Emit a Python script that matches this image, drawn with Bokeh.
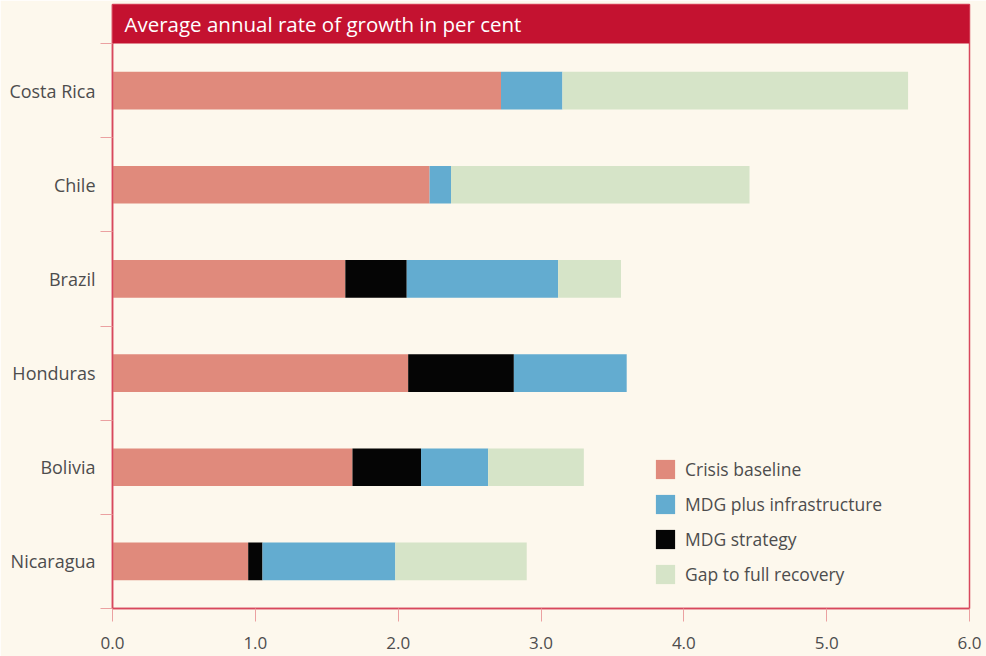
import numpy as np
from bokeh.plotting import figure
from bokeh.models import (Range1d, FixedTicker, BoxAnnotation, Label, Legend, LegendItem,
                          ColumnDataSource)
from bokeh.embed import file_html
from bokeh.resources import INLINE

# ---- data (bottom to top) ----
countries = ["Nicaragua", "Bolivia", "Honduras", "Brazil", "Chile", "Costa Rica"]
crisis_baseline = [0.95, 1.68, 2.07, 1.63, 2.22, 2.72]
mdg_strategy = [0.10, 0.48, 0.74, 0.43, 0.00, 0.00]
mdg_plus_infra = [0.93, 0.47, 0.79, 1.06, 0.15, 0.43]
gap_full_recovery = [0.92, 0.67, 0.00, 0.44, 2.09, 2.42]
x_ticks = [0, 1, 2, 3, 4, 5, 6]
x_tick_labels = ["0.0", "1.0", "2.0", "3.0", "4.0", "5.0", "6.0"]
title_text = "Average annual rate of growth in per cent"

FONT = "Open Sans"
BG = "#fdf8ed"
RED = "#c41230"
AXIS_RED = "#d8475d"
TICK_PINK = "#eba1a1"
TEXT = "#4d4d4d"

n = len(countries)
ypos = list(np.arange(n) + 0.5)
title_band = 39 / (565 / n)

src = ColumnDataSource(dict(
    y=ypos, crisis=crisis_baseline, strategy=mdg_strategy,
    infra=mdg_plus_infra, gap=gap_full_recovery))

p = figure(width=986, height=656, output_backend="svg", toolbar_location=None,
           x_range=Range1d(0, 6), y_range=Range1d(0, n + title_band),
           min_border_left=112, min_border_right=17, min_border_top=4, min_border_bottom=48,
           background_fill_color=BG, border_fill_color=BG)

rs = p.hbar_stack(["crisis", "strategy", "infra", "gap"], y="y", height=0.40, source=src,
                  color=["#e08a7c", "#050505", "#63acd0", "#d6e4c8"], line_color=None)

# title bar
p.add_layout(BoxAnnotation(bottom=n, fill_color=RED, fill_alpha=1.0, line_color=None,
                           level="overlay"))
p.add_layout(Label(x=0, y=n + title_band / 2, x_offset=12, text=title_text,
                   text_color="white", text_font=FONT, text_font_size="20.5px",
                   text_baseline="middle", level="overlay"))

p.xgrid.visible = False
p.ygrid.visible = False
p.outline_line_color = AXIS_RED
p.outline_line_width = 1.5

# x axis
xa = p.xaxis[0]
xa.ticker = FixedTicker(ticks=x_ticks)
xa.major_label_overrides = {t: l for t, l in zip(x_ticks, x_tick_labels)}
xa.axis_line_color = AXIS_RED
xa.axis_line_width = 1.5
xa.major_tick_line_color = TICK_PINK
xa.major_tick_out = 13
xa.major_tick_in = 0
xa.minor_tick_line_color = None
xa.minor_tick_out = 0
xa.major_label_standoff = 15
xa.major_label_text_font = FONT
xa.major_label_text_font_size = "17px"
xa.major_label_text_color = TEXT

# y axis: labels at category centres, ticks at boundaries
ya = p.yaxis[0]
ya.ticker = FixedTicker(ticks=ypos, minor_ticks=list(range(n + 1)))
ya.major_label_overrides = {float(y): c for y, c in zip(ypos, countries)}
ya.axis_line_color = AXIS_RED
ya.axis_line_width = 1.5
ya.major_tick_line_color = None
ya.major_tick_out = 0
ya.major_tick_in = 0
ya.minor_tick_line_color = TICK_PINK
ya.minor_tick_out = 12
ya.minor_tick_in = 0
ya.major_label_standoff = 5
ya.major_label_text_font = FONT
ya.major_label_text_font_size = "18px"
ya.major_label_text_color = TEXT

# legend (custom order)
legend = Legend(items=[
    LegendItem(label="Crisis baseline", renderers=[rs[0]]),
    LegendItem(label="MDG plus infrastructure", renderers=[rs[2]]),
    LegendItem(label="MDG strategy", renderers=[rs[1]]),
    LegendItem(label="Gap to full recovery", renderers=[rs[3]]),
], location=(541, 22), orientation="vertical")
legend.background_fill_alpha = 0
legend.border_line_color = None
legend.padding = 0
legend.margin = 0
legend.spacing = 11
legend.glyph_width = 24
legend.glyph_height = 24
legend.label_height = 24
legend.label_standoff = 8
legend.label_text_font = FONT
legend.label_text_font_size = "17.5px"
legend.label_text_color = TEXT
p.add_layout(legend, "center")

open("out.html", "w").write(file_html(p, INLINE))
